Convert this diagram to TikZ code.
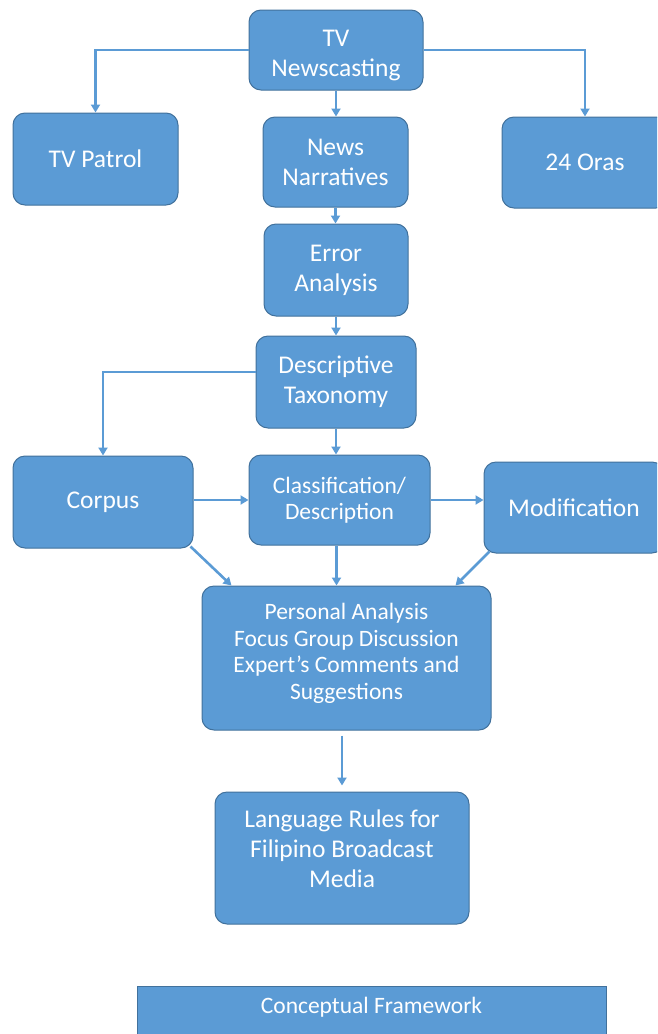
\documentclass[tikz,border=0pt]{standalone}
\usepackage{fontspec}
\setmainfont{Carlito}
\usetikzlibrary{arrows.meta}
\definecolor{boxblue}{HTML}{5B9BD5}
\definecolor{boxline}{HTML}{41719C}
\newcommand{\spostatesto}[2]{\raisebox{#1}[\height][\depth]{\begin{tabular}{@{}c@{}}#2\end{tabular}}}

\begin{document}
\begin{tikzpicture}[x=1pt,y=-1pt,
  blok/.style={draw=boxline,line width=1pt,fill=boxblue,rounded corners=12pt,
    text=white,align=center,inner sep=2pt,font=\fontsize{25.5}{30}\selectfont},
  piccolo/.style={font=\fontsize{23.5}{26.5}\selectfont},
  freccia/.style={draw=boxblue,line width=2.6pt,-{Triangle[length=8pt,width=9pt]}}]

\clip (0,0) rectangle (657,1034);

\node[blok,minimum width=174pt,minimum height=80pt] (news) at (336,50)
  {\spostatesto{-5pt}{TV\\Newscasting}};
\node[blok,minimum width=165pt,minimum height=92pt] (patrol) at (95.5,159) {TV Patrol};
\node[blok,minimum width=145pt,minimum height=90pt] (narr) at (335.5,162) {News\\Narratives};
\node[blok,minimum width=166pt,minimum height=91pt] (oras) at (585,162.5) {24 Oras};
\node[blok,minimum width=144pt,minimum height=92pt] (error) at (336,270) {Error\\Analysis};
\node[blok,minimum width=160pt,minimum height=92pt] (taxo) at (336,382) {Descriptive\\Taxonomy};
\node[blok,minimum width=180pt,minimum height=92pt] (corpus) at (103,502) {Corpus};
\node[blok,piccolo,minimum width=181pt,minimum height=90pt] (class) at (339.5,500) {Classification/\\Description};
\node[blok,minimum width=180pt,minimum height=91pt] (modif) at (574,507.5) {Modification};
\node[blok,piccolo,minimum width=289pt,minimum height=144pt] (personal) at (346.5,658)
  {\spostatesto{4pt}{Personal Analysis\\Focus Group Discussion\\Expert’s Comments and\\Suggestions}};
\node[blok,minimum width=254pt,minimum height=132pt] (rules) at (342,858)
  {\spostatesto{7pt}{Language Rules for\\Filipino Broadcast\\Media}};
\node[blok,rounded corners=0pt,font=\fontsize{23.5}{28}\selectfont,minimum width=469pt,
  minimum height=60pt,anchor=north] (frame) at (371.5,986) {\spostatesto{9pt}{Conceptual Framework}};

\draw[freccia] (news.west) -| (patrol.north);
\draw[freccia] (news.east) -| (oras.north);
\draw[freccia] (news.south) -- (news.south |- narr.north);
\draw[freccia] (narr.south) -- (narr.south |- error.north);
\draw[freccia] (error.south) -- (error.south |- taxo.north);
\draw[freccia] ([yshift=10pt]taxo.west) -| (corpus.north);
\draw[freccia] (taxo.south) -- (taxo.south |- class.north);
\draw[freccia] (corpus.east |- class.west) -- (class.west);
\draw[freccia] (class.east) -- (modif.west |- class.east);
\draw[freccia] ([shift={(-3pt,2pt)}]corpus.south east) -- ([xshift=30pt]personal.north west);
\draw[freccia] ([xshift=-3pt]class.south) -- ([xshift=-3pt]class.south |- personal.north);
\draw[freccia] ([shift={(6pt,2pt)}]modif.south west) -- ([xshift=-36pt]personal.north east);
\draw[freccia] ([yshift=-5pt]personal.south -| rules.north) -- ([yshift=6pt]rules.north);

\end{tikzpicture}
\end{document}
